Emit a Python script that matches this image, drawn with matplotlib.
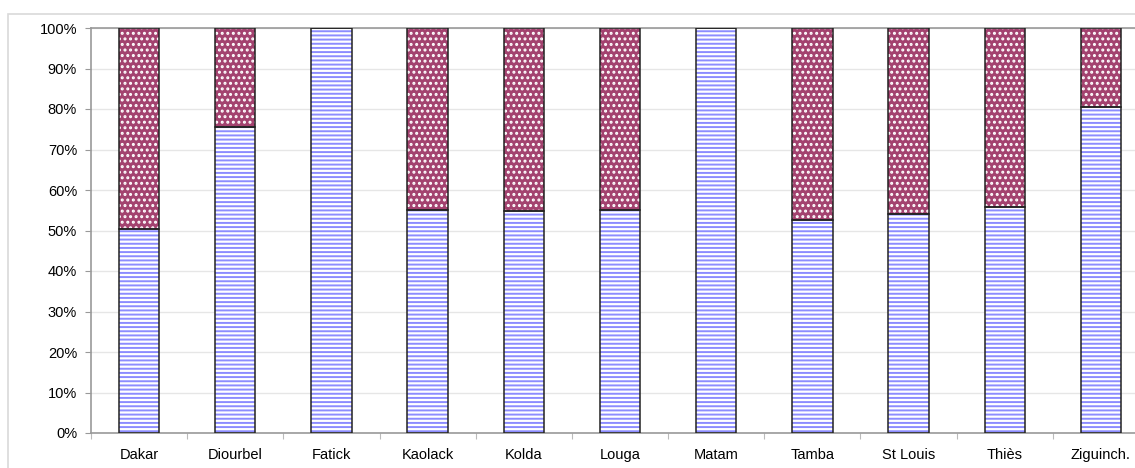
import numpy as np
import matplotlib.pyplot as plt
from matplotlib.patches import Rectangle
from matplotlib.ticker import FuncFormatter

plt.rcParams['font.family'] = ['Liberation Sans', 'DejaVu Sans']
plt.rcParams['hatch.linewidth'] = 1.4

# données
regions = ['Dakar', 'Diourbel', 'Fatick', 'Kaolack', 'Kolda', 'Louga',
           'Matam', 'Tamba', 'St Louis', 'Thiès', 'Ziguinch.']
part_bas = [50.3, 75.6, 100.0, 55.1, 54.8, 55.0, 100.0, 52.5, 54.1, 55.7, 80.5]
part_haut = [100 - v for v in part_bas]

W, H = 1135, 468
fig = plt.figure(figsize=(W / 100, H / 100), dpi=100)

# cadre extérieur gris clair
fig.patches.append(Rectangle((8 / W, -0.1), 1.2, (H - 14) / H + 0.1,
                             transform=fig.transFigure, fill=False,
                             edgecolor='#d9d9d9', linewidth=1.2))

ax = fig.add_axes([91 / W, 35 / H, (1149 - 91) / W, 405 / H])
x = np.arange(len(regions))
largeur = 0.42

# remplissage hachuré (couleur de hachure = edgecolor)
ax.bar(x, part_bas, largeur, color='white', edgecolor='#8c8cff',
       hatch='----', linewidth=0, zorder=2)
ax.bar(x, part_haut, largeur, bottom=part_bas, color='#a3426f',
       edgecolor='white', hatch='...', linewidth=0, zorder=2)
# contours noirs
ax.bar(x, part_bas, largeur, fill=False, edgecolor='#222222', linewidth=1.1, zorder=3)
ax.bar(x, part_haut, largeur, bottom=part_bas, fill=False,
       edgecolor='#222222', linewidth=1.1, zorder=3)

ax.set_xlim(-0.5, len(regions) - 0.5)
ax.set_ylim(0, 100)
ax.set_yticks(np.arange(0, 101, 10))
ax.yaxis.set_major_formatter(FuncFormatter(lambda v, p: f'{int(v)}%'))
ax.grid(axis='y', color='#e6e6e6', linewidth=1.0, zorder=0)

ax.set_xticks(np.arange(-0.5, len(regions), 1))
ax.set_xticklabels([])
ax.set_xticks(x, minor=True)
ax.set_xticklabels(regions, minor=True)
ax.tick_params(axis='x', which='major', length=4, color='#bbbbbb')
ax.tick_params(axis='x', which='minor', length=0, pad=11, labelsize=10.5)
ax.tick_params(axis='y', length=4, color='#999999', labelsize=10.5, pad=6)

for s in ['left', 'bottom', 'top']:
    ax.spines[s].set_color('#999999')
    ax.spines[s].set_linewidth(1.2)
ax.spines['right'].set_visible(False)

fig.savefig('out.png', dpi=100)
